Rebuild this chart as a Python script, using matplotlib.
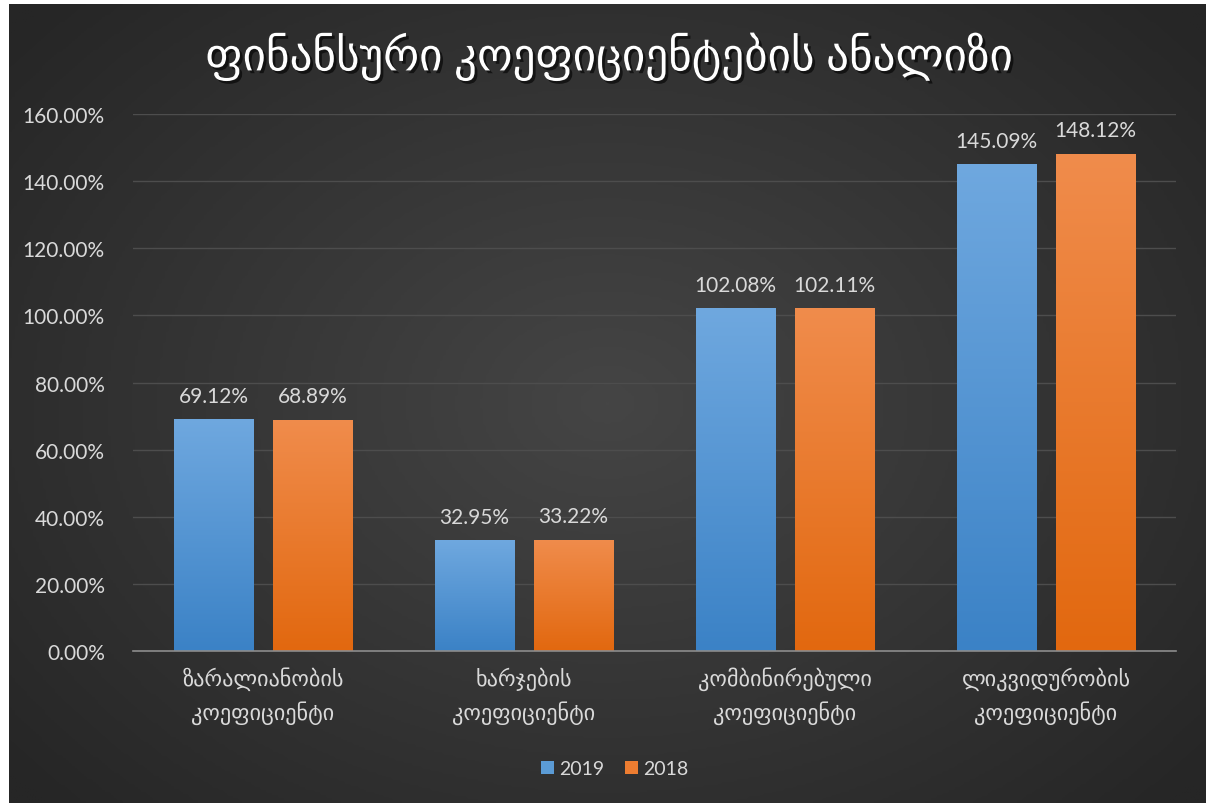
import numpy as np
import matplotlib
matplotlib.use("Agg")
import matplotlib.pyplot as plt
import matplotlib.patheffects as pe
from matplotlib.colors import LinearSegmentedColormap

title = "ფინანსური კოეფიციენტების ანალიზი"
categories = ["ზარალიანობის\nკოეფიციენტი", "ხარჯების\nკოეფიციენტი",
              "კომბინირებული\nკოეფიციენტი", "ლიკვიდურობის\nკოეფიციენტი"]
years = ["2019", "2018"]
values_2019 = [69.12, 32.95, 102.08, 145.09]
values_2018 = [68.89, 33.22, 102.11, 148.12]
yticks = [0, 20, 40, 60, 80, 100, 120, 140, 160]

fam = ["Lato", "DejaVu Sans"]
txt = "#d9d9d9"

fig = plt.figure(figsize=(12.06, 8.04), dpi=100, facecolor="white")

# dark background with a soft radial glow
bg = fig.add_axes([9 / 1206, 0, 1 - 9 / 1206, 1 - 5 / 804])
bg.set_axis_off()
yy, xx = np.mgrid[-1:1:300j, -1:1:400j]
r = np.sqrt(xx ** 2 + (yy * 0.9) ** 2)
bgcmap = LinearSegmentedColormap.from_list("bg", ["#454545", "#262626"])
bg.imshow(r, cmap=bgcmap, aspect="auto", extent=[0, 1, 0, 1], vmin=0, vmax=1.3)
bg.set_xlim(0, 1)
bg.set_ylim(0, 1)

ax = fig.add_axes([0.1099, 0.189, 0.8656, 0.668])
ax.set_facecolor("none")
x = np.arange(len(categories))
w = 0.305
off = 0.19

blue = LinearSegmentedColormap.from_list("b", ["#3b82c6", "#6fa8df"])
orange = LinearSegmentedColormap.from_list("o", ["#e2680f", "#f08c4c"])
grad = np.linspace(0, 1, 256).reshape(-1, 1)

for vals, dx, cmap, lab, col in [(values_2019, -off, blue, years[0], "#5b9bd5"),
                                  (values_2018, off, orange, years[1], "#ed7d31")]:
    bars = ax.bar(x + dx, vals, w, color=col, label=lab, zorder=2)
    for b, v in zip(bars, vals):
        im = ax.imshow(grad, cmap=cmap, aspect="auto", origin="lower",
                       extent=[b.get_x(), b.get_x() + b.get_width(), 0, v], zorder=3)
        im.set_clip_path(b)
        ax.text(b.get_x() + b.get_width() / 2, v + 4, f"{v:.2f}%", ha="center",
                va="bottom", color=txt, fontsize=15, family=fam, zorder=4)

ax.set_xlim(-0.5, 3.5)
ax.set_ylim(0, 160)
ax.set_yticks(yticks)
ax.set_yticklabels([f"{t:.2f}%" for t in yticks], color=txt, fontsize=15, family=fam)
ax.set_xticks(x)
ax.set_xticklabels(categories, color=txt, fontsize=16, family=fam, linespacing=1.55)
ax.tick_params(axis="y", length=0, pad=20)
ax.tick_params(axis="x", length=0, pad=11)
ax.grid(axis="y", color="#4d4d4d", linewidth=1, zorder=0)
ax.set_axisbelow(True)
for s in ["top", "right", "left"]:
    ax.spines[s].set_visible(False)
ax.spines["bottom"].set_color("#8c8c8c")
ax.spines["bottom"].set_linewidth(1.2)
ax.spines["bottom"].set_zorder(5)

leg = ax.legend(loc="upper center", bbox_to_anchor=(0.462, -0.17), ncol=2, frameon=False,
                handlelength=0.65, handleheight=0.65, handletextpad=0.25, columnspacing=1.1,
                prop={"family": fam, "size": 14})
for t in leg.get_texts():
    t.set_color(txt)

fig.text(0.505, 0.928, title, ha="center", va="center", color="white", fontsize=32.5,
         family=fam, path_effects=[pe.withSimplePatchShadow(offset=(2, -2), shadow_rgbFace="black", alpha=0.6)])

fig.savefig("out.png", dpi=100, facecolor=fig.get_facecolor())
